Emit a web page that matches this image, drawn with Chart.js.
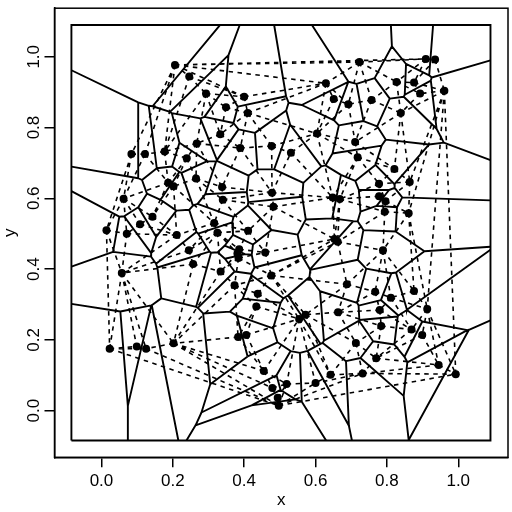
<!DOCTYPE html>
<html>
<head>
<meta charset="utf-8">
<style>
html, body { margin: 0; padding: 0; background: #fff; }
canvas { display: block; }
</style>
<script src="https://cdn.jsdelivr.net/npm/chart.js@4/dist/chart.umd.min.js"></script>
</head>
<body>
<canvas id="chartdiv" width="512" height="512"></canvas>
<script>
const xValues = [.206,.246,.293,.400,.349,.410,.333,.267,.389,.477,.177,.122,.084,.239,.265,.187,.202,.338,.478,.340,
                 .062,.482,.143,.316,.108,.014,.071,.211,.325,.411,.245,.386,.381,.384,.459,.257,.057,.334,.476,.373,
                 .438,.434,.383,.406,.202,.023,.099,.125,.455,.479,.494,.497,.723,.909,.935,.629,.827,.876,.961,.893,
                 .651,.757,.692,.839,.604,.711,.531,.718,.821,.864,.778,.778,.796,.648,.668,.794,.861,.653,.662,.789,
                 .688,.767,.876,.811,.913,.780,.663,.572,.554,.784,.869,.899,.713,.770,.945,.993,.642,.732,.519,.600]
const yValues = [.977,.944,.896,.887,.857,.841,.781,.755,.742,.748,.732,.725,.725,.713,.656,.644,.634,.632,.616,.596,
                 .599,.576,.548,.530,.527,.510,.500,.496,.503,.508,.453,.456,.444,.431,.447,.414,.389,.393,.382,.354,
                 .330,.294,.208,.214,.190,.175,.181,.175,.112,.064,.036,.014,.985,.994,.992,.925,.929,.927,.904,.896,
                 .881,.878,.866,.841,.783,.759,.729,.716,.683,.646,.641,.606,.592,.602,.598,.562,.558,.485,.477,.453,
                 .357,.336,.338,.319,.287,.284,.278,.271,.259,.239,.229,.214,.191,.148,.129,.103,.101,.105,.075,.078]
const tickValues = [0, 0.2, 0.4, 0.6, 0.8, 1.0]
const tickLabels = ['0.0', '0.2', '0.4', '0.6', '0.8', '1.0']
const windowX = [-0.0842, 1.0903]
const windowY = [-0.0846, 1.0899]
const FONT = 'Liberation Sans'

// delaunay triangulation, bowyer-watson with a far away super triangle
function circumcenter(a, b, c){
    const d = 2*(a[0]*(b[1]-c[1]) + b[0]*(c[1]-a[1]) + c[0]*(a[1]-b[1]))
    const a2 = a[0]*a[0]+a[1]*a[1], b2 = b[0]*b[0]+b[1]*b[1], c2 = c[0]*c[0]+c[1]*c[1]
    const x = (a2*(b[1]-c[1]) + b2*(c[1]-a[1]) + c2*(a[1]-b[1]))/d
    const y = (a2*(c[0]-b[0]) + b2*(a[0]-c[0]) + c2*(b[0]-a[0]))/d
    return [x, y]
}

function triangulate(pts){
    const n = pts.length
    const all = pts.concat([[-1e4, -1e4], [1e4, -1e4], [0, 1e4]])
    const makeTri = function(i, j, k){
        const c = circumcenter(all[i], all[j], all[k])
        return {v: [i, j, k], c: c, r2: (c[0]-all[i][0])**2 + (c[1]-all[i][1])**2}
    }
    let tris = [makeTri(n, n+1, n+2)]
    for (let p = 0; p < n; p++){
        const bad = [], good = []
        tris.forEach(t => {
            const d2 = (t.c[0]-all[p][0])**2 + (t.c[1]-all[p][1])**2
            if (d2 < t.r2) bad.push(t); else good.push(t)
        })
        const edges = {}
        bad.forEach(t => {
            [[0,1],[1,2],[2,0]].forEach(e => {
                const a = Math.min(t.v[e[0]], t.v[e[1]]), b = Math.max(t.v[e[0]], t.v[e[1]])
                edges[a+'_'+b] = (edges[a+'_'+b] || 0) + 1
            })
        })
        tris = good
        Object.keys(edges).forEach(k => {
            if (edges[k] === 1){
                const e = k.split('_').map(Number)
                tris.push(makeTri(e[0], e[1], p))
            }
        })
    }
    return tris
}

// liang-barsky against the window
function clipSegment(a, b){
    let t0 = 0, t1 = 1
    const dx = b[0]-a[0], dy = b[1]-a[1]
    const tests = [[-dx, a[0]-windowX[0]], [dx, windowX[1]-a[0]], [-dy, a[1]-windowY[0]], [dy, windowY[1]-a[1]]]
    for (const [p, q] of tests){
        if (p === 0){
            if (q < 0) return null
        } else {
            const r = q/p
            if (p < 0) t0 = Math.max(t0, r); else t1 = Math.min(t1, r)
            if (t0 > t1) return null
        }
    }
    return [[a[0]+t0*dx, a[1]+t0*dy], [a[0]+t1*dx, a[1]+t1*dy]]
}

const points = xValues.map((x, i) => ({x: x, y: yValues[i]}))
const tris = triangulate(xValues.map((x, i) => [x, yValues[i]]))
const edgeTris = {}
tris.forEach(t => {
    [[0,1],[1,2],[2,0]].forEach(e => {
        const a = Math.min(t.v[e[0]], t.v[e[1]]), b = Math.max(t.v[e[0]], t.v[e[1]])
        const key = a+'_'+b
        if (!edgeTris[key]) edgeTris[key] = []
        edgeTris[key].push(t)
    })
})

const delaunayLine = [], voronoiLine = []
const GAP = {x: null, y: null}
Object.keys(edgeTris).forEach(key => {
    const e = key.split('_').map(Number)
    if (e[1] < xValues.length){
        delaunayLine.push(points[e[0]], points[e[1]], GAP)
    }
    const ts = edgeTris[key]
    if (ts.length === 2){
        const seg = clipSegment(ts[0].c, ts[1].c)
        if (seg){
            voronoiLine.push({x: seg[0][0], y: seg[0][1]}, {x: seg[1][0], y: seg[1][1]}, GAP)
        }
    }
})

const windowLine = [
    {x: windowX[0], y: windowY[0]}, {x: windowX[1], y: windowY[0]},
    {x: windowX[1], y: windowY[1]}, {x: windowX[0], y: windowY[1]},
    {x: windowX[0], y: windowY[0]}
]

const boxPlugin = {
    id: 'box',
    afterDraw: function(chart){
        const a = chart.chartArea, ctx = chart.ctx
        ctx.save()
        ctx.strokeStyle = '#000'
        ctx.lineWidth = 1.5
        ctx.strokeRect(a.left, a.top, a.right-a.left, a.bottom-a.top)
        ctx.restore()
    }
}

function axisOptions(title, min, max){
    return {
        type: 'linear',
        min: min,
        max: max,
        afterBuildTicks: function(scale){ scale.ticks = tickValues.map(v => ({value: v})) },
        title: {display: true, text: title, color: '#000', font: {family: FONT, size: 17}, padding: 0},
        border: {display: true, color: '#000', width: 1.5},
        grid: {drawOnChartArea: false, drawTicks: true, tickLength: 10, color: '#000', lineWidth: 1.5},
        ticks: {
            autoSkip: false,
            color: '#000',
            font: {family: FONT, size: 17},
            callback: function(v){ return tickLabels[tickValues.indexOf(v)] }
        }
    }
}

const yAxis = axisOptions('y', -0.132, 1.1373)
yAxis.ticks.minRotation = 90
yAxis.ticks.maxRotation = 90
yAxis.ticks.crossAlign = 'center'
yAxis.ticks.padding = -2
yAxis.afterFit = function(scale){ scale.width = 54.5 }
yAxis.title.padding = {top: 0, bottom: 0}

const xAxis = axisOptions('x', -0.1316, 1.1394)
xAxis.ticks.maxRotation = 0
xAxis.ticks.padding = 4
xAxis.afterFit = function(scale){ scale.height = 54.7 }
xAxis.title.padding = {top: 0, bottom: 1}

const myChart = new Chart(document.getElementById('chartdiv').getContext('2d'), {
    type: 'scatter',
    data: {datasets: [
        {label: 'voronoi', data: voronoiLine, showLine: true, borderColor: '#000', borderWidth: 1.9,
         pointRadius: 0, spanGaps: false, order: 3},
        {label: 'delaunay', data: delaunayLine, showLine: true, borderColor: '#000', borderWidth: 1.6,
         borderDash: [4.5, 4.5], pointRadius: 0, spanGaps: false, order: 2},
        {label: 'window', data: windowLine, showLine: true, borderColor: '#000', borderWidth: 1.9,
         pointRadius: 0, order: 2},
        {label: 'points', data: points, showLine: false, backgroundColor: '#000', borderColor: '#000',
         pointRadius: 4, borderWidth: 0, order: 1}
    ]},
    options: {
        responsive: false,
        animation: false,
        layout: {padding: {top: 2.5, right: 1.7, left: 0, bottom: 0}},
        plugins: {legend: {display: false}, tooltip: {enabled: false}},
        scales: {x: xAxis, y: yAxis}
    },
    plugins: [boxPlugin]
})
</script>
</body>
</html>
